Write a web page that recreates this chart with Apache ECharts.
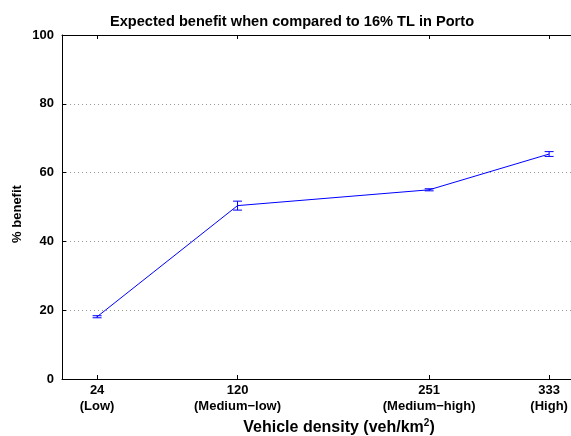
<!DOCTYPE html>
<html>
<head>
<meta charset="utf-8">
<script src="https://cdn.jsdelivr.net/npm/echarts@6/dist/echarts.min.js"></script>
<style>html,body{margin:0;padding:0;background:#fff}#c{width:571px;height:436px}</style>
</head>
<body>
<div id="c"></div>
<script>
const densities = [24, 120, 251, 333];
const densityNames = ['(Low)', '(Medium\u2212low)', '(Medium\u2212high)', '(High)'];
const benefit = [18.1, 50.4, 55.0, 65.4];
const benefitErr = [0.3, 1.3, 0.3, 0.7];
const yTicks = [0, 20, 40, 60, 80, 100];

const font = 'Liberation Sans, Arial, Helvetica, sans-serif';
const chart = echarts.init(document.getElementById('c'), null, {renderer: 'canvas'});

const lineData = densities.map((d, i) => [d, benefit[i]]);
const errData = densities.map((d, i) => [d, benefit[i] - benefitErr[i], benefit[i] + benefitErr[i]]);

chart.setOption({
  animation: false,
  backgroundColor: '#fff',
  title: {
    text: 'Expected benefit when compared to 16% TL in Porto',
    left: 287, top: 9, textAlign: 'center',
    textStyle: {fontFamily: font, fontWeight: 'bold', fontSize: 14.6, color: '#000'}
  },
  grid: {left: 62, top: 35, bottom: 57, right: -3, containLabel: false, outerBoundsMode: 'none'},
  xAxis: [{
    type: 'value', min: 0, max: 350, position: 'bottom',
    axisLine: {onZero: false, lineStyle: {color: '#000', width: 1}},
    axisTick: {inside: true, length: 4, customValues: densities, lineStyle: {color: '#000'}},
    axisLabel: {
      customValues: densities, margin: 3,
      fontFamily: font, fontWeight: 'bold', fontSize: 13, color: '#000', lineHeight: 16,
      formatter: v => { const i = densities.indexOf(v); return i < 0 ? '' : v + '\n' + densityNames[i]; }
    },
    splitLine: {show: false},
    name: 'Vehicle density (veh/km{sup|2})',
    nameLocation: 'middle', nameGap: 39, nameMoveOverlap: false,
    nameTextStyle: {
      fontFamily: font, fontWeight: 'bold', fontSize: 16, color: '#000', padding: [0, 0, 0, 42],
      rich: {sup: {fontFamily: font, fontWeight: 'bold', fontSize: 10, color: '#000', verticalAlign: 'top', padding: [0, 0, 9, 0]}}
    }
  }, {
    type: 'value', min: 0, max: 350, position: 'top',
    axisLine: {show: true, onZero: false, lineStyle: {color: '#000', width: 1}},
    axisTick: {inside: true, length: 4, customValues: densities, lineStyle: {color: '#000'}},
    axisLabel: {show: false},
    splitLine: {show: false}
  }],
  yAxis: [{
    type: 'value', min: 0, max: 100, interval: 20,
    axisLine: {show: true, onZero: false, lineStyle: {color: '#000', width: 1}},
    axisTick: {inside: true, length: 4, lineStyle: {color: '#000'}},
    axisLabel: {margin: 8, fontFamily: font, fontWeight: 'bold', fontSize: 13, color: '#000',
      customValues: yTicks},
    splitLine: {show: true, lineStyle: {color: '#999', type: [1, 3], width: 1}},
    name: '% benefit', nameLocation: 'middle', nameGap: 38, nameRotate: 90, nameMoveOverlap: false,
    nameTextStyle: {fontFamily: font, fontWeight: 'bold', fontSize: 13, color: '#000', padding: [0, 14, 0, 0]}
  }],
  series: [{
    type: 'line', data: lineData, xAxisIndex: 0, yAxisIndex: 0,
    symbol: 'none', lineStyle: {color: '#0000ff', width: 1}, z: 3
  }, {
    type: 'custom', xAxisIndex: 0, yAxisIndex: 0, z: 4,
    data: errData,
    renderItem: function (params, api) {
      const x = api.value(0);
      const lo = api.coord([x, api.value(1)]);
      const hi = api.coord([x, api.value(2)]);
      const hw = 4.5;
      const st = {stroke: '#0000ff', lineWidth: 1, fill: null};
      return {type: 'group', children: [
        {type: 'line', shape: {x1: lo[0], y1: lo[1], x2: hi[0], y2: hi[1]}, style: st},
        {type: 'line', shape: {x1: lo[0] - hw, y1: lo[1], x2: lo[0] + hw, y2: lo[1]}, style: st},
        {type: 'line', shape: {x1: hi[0] - hw, y1: hi[1], x2: hi[0] + hw, y2: hi[1]}, style: st}
      ]};
    }
  }]
});
</script>
</body>
</html>
